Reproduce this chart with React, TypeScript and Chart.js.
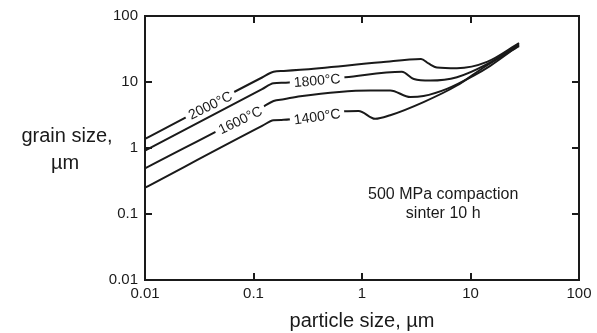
import React, { useEffect, useRef } from "react";
import { Chart, registerables } from "chart.js";

Chart.register(...registerables);

// ---- data ----
const xTickValues = [0.01, 0.1, 1, 10, 100];
const yTickValues = [0.01, 0.1, 1, 10, 100];

const seriesNames = ["2000°C", "1800°C", "1600°C", "1400°C"];

const particle2000 = [0.01, 0.12, 0.153, 0.19, 0.27, 1.5, 3.5, 4.1, 4.9, 7.5, 14.2, 28];
const grain2000 = [1.37, 11.7, 14.3, 14.7, 15.3, 19.9, 22.3, 19.1, 16.6, 16.2, 20.2, 39];

const particle1800 = [0.01, 0.12, 0.153, 0.19, 0.218, 0.7, 2.33, 3.0, 4.26, 7.5, 14.2, 28];
const grain1800 = [0.91, 7.8, 9.6, 9.75, 9.9, 11.8, 14.3, 11.1, 10.5, 11.8, 18.6, 37.5];

const particle1600 = [0.01, 0.12, 0.153, 0.19, 0.27, 1.19, 1.82, 2.79, 3.69, 6.06, 10.7, 15.2, 28];
const grain1600 = [0.49, 4.13, 5.15, 5.48, 6.1, 7.45, 7.45, 5.91, 6.12, 7.87, 12.5, 17.6, 36];

const particle1400 = [0.01, 0.12, 0.153, 0.19, 0.22, 0.7, 0.93, 1.32, 1.82, 3.69, 7.5, 13.2, 28];
const grain1400 = [0.25, 2.16, 2.64, 2.67, 2.72, 3.6, 3.65, 2.77, 3.14, 4.97, 8.85, 16.6, 35];

// curve labels, placed in data coordinates on their curves
const labelParticle = [0.0398, 0.386, 0.0752, 0.386];
const labelGrain = [4.48, 10.65, 2.67, 3.02];
const labelAngle = [-26, -5, -26, -8];

const noteLines = ["500 MPa compaction", "sinter 10 h"];
const noteParticle = 5.6;
const noteGrain = [0.2, 0.1];

const xTitle = "particle size, µm";
const yTitleLines = ["grain size,", "µm"];

// ---- styles ----
const FAMILY = "'Liberation Sans', Arial, Helvetica, sans-serif";
const INK = "#1a1a1a";

const pairs = (p: number[], g: number[]) => p.map((x, i) => ({ x, y: g[i] }));

const decor = {
  id: "decor",
  afterDatasetsDraw(chart: any) {
    const { ctx } = chart;
    const xs = chart.scales.x;
    const ys = chart.scales.y;
    ctx.save();
    ctx.font = `14px ${FAMILY}`;
    seriesNames.forEach((t, i) => {
      const px = xs.getPixelForValue(labelParticle[i]);
      const py = ys.getPixelForValue(labelGrain[i]);
      ctx.save();
      ctx.translate(px, py);
      ctx.rotate((labelAngle[i] * Math.PI) / 180);
      const w = ctx.measureText(t).width + 8;
      ctx.fillStyle = "#fff";
      ctx.fillRect(-w / 2, -7, w, 14);
      ctx.fillStyle = INK;
      ctx.textAlign = "center";
      ctx.textBaseline = "middle";
      ctx.fillText(t, 0, 1);
      ctx.restore();
    });
    ctx.restore();
  },
  afterDraw(chart: any) {
    const { ctx, chartArea } = chart;
    const xs = chart.scales.x;
    const ys = chart.scales.y;
    const { left, right, top, bottom } = chartArea;
    ctx.save();
    ctx.strokeStyle = INK;
    ctx.lineWidth = 2;
    ctx.strokeRect(left, top, right - left, bottom - top);
    const tl = 7;
    ctx.beginPath();
    xTickValues.forEach((v) => {
      const px = Math.round(xs.getPixelForValue(v));
      ctx.moveTo(px, bottom);
      ctx.lineTo(px, bottom - tl);
      ctx.moveTo(px, top);
      ctx.lineTo(px, top + tl);
    });
    yTickValues.forEach((v) => {
      const py = Math.round(ys.getPixelForValue(v));
      ctx.moveTo(left, py);
      ctx.lineTo(left + tl, py);
      ctx.moveTo(right, py);
      ctx.lineTo(right - tl, py);
    });
    ctx.stroke();

    // y-axis title (horizontal, two lines)
    ctx.fillStyle = INK;
    ctx.textAlign = "center";
    ctx.textBaseline = "middle";
    ctx.font = `20px ${FAMILY}`;
    const midY = ys.getPixelForValue(1);
    ctx.fillText(yTitleLines[0], left - 78, midY - 12);
    ctx.fillText(yTitleLines[1], left - 80, midY + 15);

    // annotation
    ctx.font = `16px ${FAMILY}`;
    noteLines.forEach((t, i) => {
      ctx.fillText(t, xs.getPixelForValue(noteParticle), ys.getPixelForValue(noteGrain[i]));
    });
    ctx.restore();
  },
};

export default function App() {
  const ref = useRef<HTMLCanvasElement>(null);
  useEffect(() => {
    const canvas = ref.current!;
    const series = [
      pairs(particle2000, grain2000),
      pairs(particle1800, grain1800),
      pairs(particle1600, grain1600),
      pairs(particle1400, grain1400),
    ];
    const chart = new Chart(canvas, {
      type: "line",
      data: {
        datasets: series.map((d, i) => ({
          label: seriesNames[i],
          data: d,
          borderColor: INK,
          borderWidth: 2,
          pointRadius: 0,
          fill: false,
          cubicInterpolationMode: "monotone" as const,
        })),
      },
      options: {
        responsive: false,
        animation: false,
        devicePixelRatio: 1,
        layout: { padding: { top: 13, right: 18, left: 0, bottom: 0 } },
        plugins: { legend: { display: false }, tooltip: { enabled: false } },
        scales: {
          x: {
            type: "logarithmic",
            position: "bottom",
            min: 0.01,
            max: 100,
            afterFit: (s: any) => {
              s.height = 53;
            },
            afterBuildTicks: (s: any) => {
              s.ticks = xTickValues.map((v) => ({ value: v }));
            },
            ticks: {
              callback: (v: any) => String(v),
              autoSkip: false,
              maxRotation: 0,
              padding: 5,
              color: INK,
              font: { family: FAMILY, size: 15 },
            },
            grid: { display: false, drawTicks: false },
            border: { display: false },
            title: {
              display: true,
              text: xTitle,
              color: INK,
              font: { family: FAMILY, size: 20 },
              padding: { top: 0, bottom: 0 },
            },
          },
          y: {
            type: "logarithmic",
            position: "left",
            min: 0.01,
            max: 100,
            afterFit: (s: any) => {
              s.width = 145;
            },
            afterBuildTicks: (s: any) => {
              s.ticks = yTickValues.map((v) => ({ value: v }));
            },
            ticks: {
              callback: (v: any) => String(v),
              autoSkip: false,
              padding: 7,
              color: INK,
              font: { family: FAMILY, size: 15 },
            },
            grid: { display: false, drawTicks: false },
            border: { display: false },
          },
        },
      },
      plugins: [decor],
    });
    return () => chart.destroy();
  }, []);
  return (
    <div style={{ position: "absolute", left: 0, top: 0, width: 597, height: 333, background: "#fff" }}>
      <canvas ref={ref} width={597} height={333} style={{ display: "block" }} />
    </div>
  );
}
